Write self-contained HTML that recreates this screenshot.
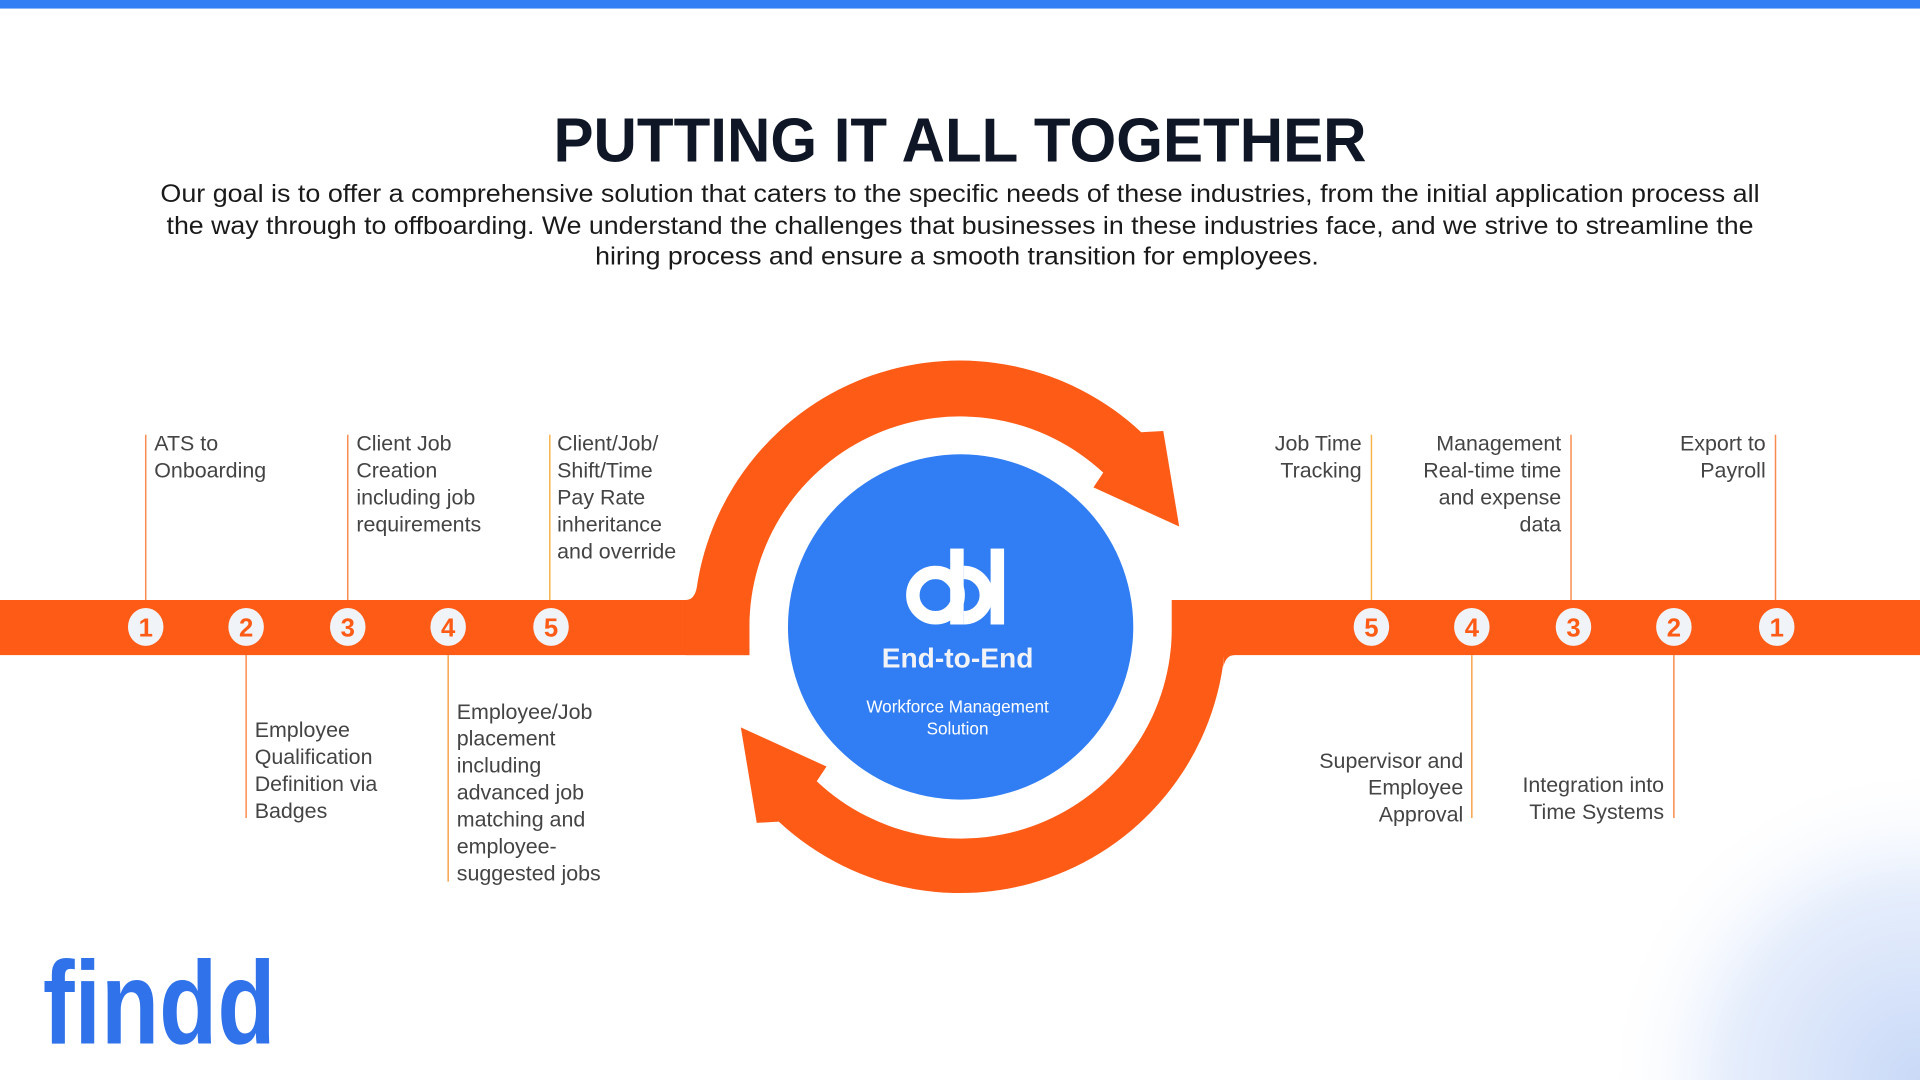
<!DOCTYPE html>
<html><head><meta charset="utf-8"><style>
html,body{margin:0;padding:0;width:1920px;height:1080px;overflow:hidden;background:#fff}
svg{display:block}
text{font-family:"Liberation Sans",sans-serif}
</style></head><body>
<svg width="1920" height="1080" viewBox="0 0 1568 882" xmlns="http://www.w3.org/2000/svg">
<defs>
<radialGradient id="g" cx="1568" cy="882" r="260" gradientUnits="userSpaceOnUse">
<stop offset="0" stop-color="#c9d9f7"/><stop offset="0.6" stop-color="#e6eefc"/><stop offset="1" stop-color="#ffffff" stop-opacity="0"/>
</radialGradient>
</defs>
<rect x="1250" y="620" width="318" height="262" fill="url(#g)"/>
<rect x="0" y="0" width="1568" height="7" fill="#317ef4"/>
<text x="452" y="132" font-size="51" font-weight="bold" fill="#0f1626" textLength="664" lengthAdjust="spacingAndGlyphs">PUTTING IT ALL TOGETHER</text>
<g font-size="20.5" fill="#1a1a1a">
<text x="131" y="165" textLength="1306" lengthAdjust="spacingAndGlyphs">Our goal is to offer a comprehensive solution that caters to the specific needs of these industries, from the initial application process all</text>
<text x="136" y="191" textLength="1296" lengthAdjust="spacingAndGlyphs">the way through to offboarding. We understand the challenges that businesses in these industries face, and we strive to streamline the</text>
<text x="486" y="216" textLength="591" lengthAdjust="spacingAndGlyphs">hiring process and ensure a smooth transition for employees.</text>
</g>
<g fill="#fe5b16">
<rect x="0" y="490" width="612" height="45"/>
<path d="M560 490 Q567 490 569 480 A217 217 0 0 1 932 353 L950 352 L963 430 L893 398 L901 386 A172 172 0 0 0 612 512 L612 535 L560 535 Z"/>
<rect x="957" y="490" width="611" height="45"/>
<path d="M957 490 L1001 490 L1001 512 A217 217 0 0 1 636 671 L618 672 L605 594 L675 626 L667 638 A172 172 0 0 0 957 512 Z"/>
<path d="M1008 535 Q1001 535 999 545 L1001 512 Z"/>
</g>
<circle cx="784.5" cy="512" r="141" fill="#317ef4"/>
<g fill="#fff">
<circle cx="764" cy="486" r="18.5" fill="none" stroke="#fff" stroke-width="11"/>
<rect x="776" y="448" width="11" height="62"/>
<path d="M787 467.5 A18.5 18.5 0 0 1 787 504.5" fill="none" stroke="#fff" stroke-width="11"/>
<rect x="809" y="448" width="11" height="62"/>
</g>
<text x="782" y="545" text-anchor="middle" font-size="23" font-weight="bold" fill="#f1f3f7">End-to-End</text>
<text x="782" y="582" text-anchor="middle" font-size="14" fill="#fff">Workforce Management</text>
<text x="782" y="600" text-anchor="middle" font-size="14" fill="#fff">Solution</text>
<g stroke="#f98a4e" stroke-width="1.2">
<line x1="119" y1="355" x2="119" y2="490"/>
<line x1="284" y1="355" x2="284" y2="490"/>
<line x1="449" y1="355" x2="449" y2="490" stroke="#f8b24a"/>
<line x1="201" y1="535" x2="201" y2="668"/>
<line x1="366" y1="535" x2="366" y2="720" stroke="#f8a04a"/>
<line x1="1120" y1="355" x2="1120" y2="490" stroke="#f8b24a"/>
<line x1="1283" y1="355" x2="1283" y2="490"/>
<line x1="1450" y1="355" x2="1450" y2="490"/>
<line x1="1202" y1="535" x2="1202" y2="668" stroke="#f8a04a"/>
<line x1="1367" y1="535" x2="1367" y2="668"/>
</g>
<g fill="#f0f3f7">
<ellipse cx="119" cy="512" rx="14.5" ry="15.5"/><ellipse cx="201" cy="512" rx="14.5" ry="15.5"/><ellipse cx="284" cy="512" rx="14.5" ry="15.5"/><ellipse cx="366" cy="512" rx="14.5" ry="15.5"/><ellipse cx="450" cy="512" rx="14.5" ry="15.5"/>
<ellipse cx="1120" cy="512" rx="14.5" ry="15.5"/><ellipse cx="1202" cy="512" rx="14.5" ry="15.5"/><ellipse cx="1285" cy="512" rx="14.5" ry="15.5"/><ellipse cx="1367" cy="512" rx="14.5" ry="15.5"/><ellipse cx="1451" cy="512" rx="14.5" ry="15.5"/>
</g>
<g font-size="21" font-weight="bold" fill="#fe5b16" text-anchor="middle">
<text x="119" y="520">1</text><text x="201" y="520">2</text><text x="284" y="520">3</text><text x="366" y="520">4</text><text x="450" y="520">5</text>
<text x="1120" y="520">5</text><text x="1202" y="520">4</text><text x="1285" y="520">3</text><text x="1367" y="520">2</text><text x="1451" y="520">1</text>
</g>
<g font-size="17.5" fill="#444">
<text x="126" y="368">ATS to</text><text x="126" y="390">Onboarding</text>
<text x="291" y="368">Client Job</text><text x="291" y="390">Creation</text><text x="291" y="412">including job</text><text x="291" y="434">requirements</text>
<text x="455" y="368">Client/Job/</text><text x="455" y="390">Shift/Time</text><text x="455" y="412">Pay Rate</text><text x="455" y="434">inheritance</text><text x="455" y="456">and override</text>
<text x="208" y="602">Employee</text><text x="208" y="624">Qualification</text><text x="208" y="646">Definition via</text><text x="208" y="668">Badges</text>
<text x="373" y="587">Employee/Job</text><text x="373" y="609">placement</text><text x="373" y="631">including</text><text x="373" y="653">advanced job</text><text x="373" y="675">matching and</text><text x="373" y="697">employee-</text><text x="373" y="719">suggested jobs</text>
</g>
<g font-size="17.5" fill="#444" text-anchor="end">
<text x="1112" y="368">Job Time</text><text x="1112" y="390">Tracking</text>
<text x="1275" y="368">Management</text><text x="1275" y="390">Real-time time</text><text x="1275" y="412">and expense</text><text x="1275" y="434">data</text>
<text x="1442" y="368">Export to</text><text x="1442" y="390">Payroll</text>
<text x="1195" y="627">Supervisor and</text><text x="1195" y="649">Employee</text><text x="1195" y="671">Approval</text>
<text x="1359" y="647">Integration into</text><text x="1359" y="669">Time Systems</text>
</g>
<text x="35" y="852" font-size="96" font-weight="bold" fill="#2f72ea" textLength="190" lengthAdjust="spacingAndGlyphs">findd</text>
</svg>
</body></html>
